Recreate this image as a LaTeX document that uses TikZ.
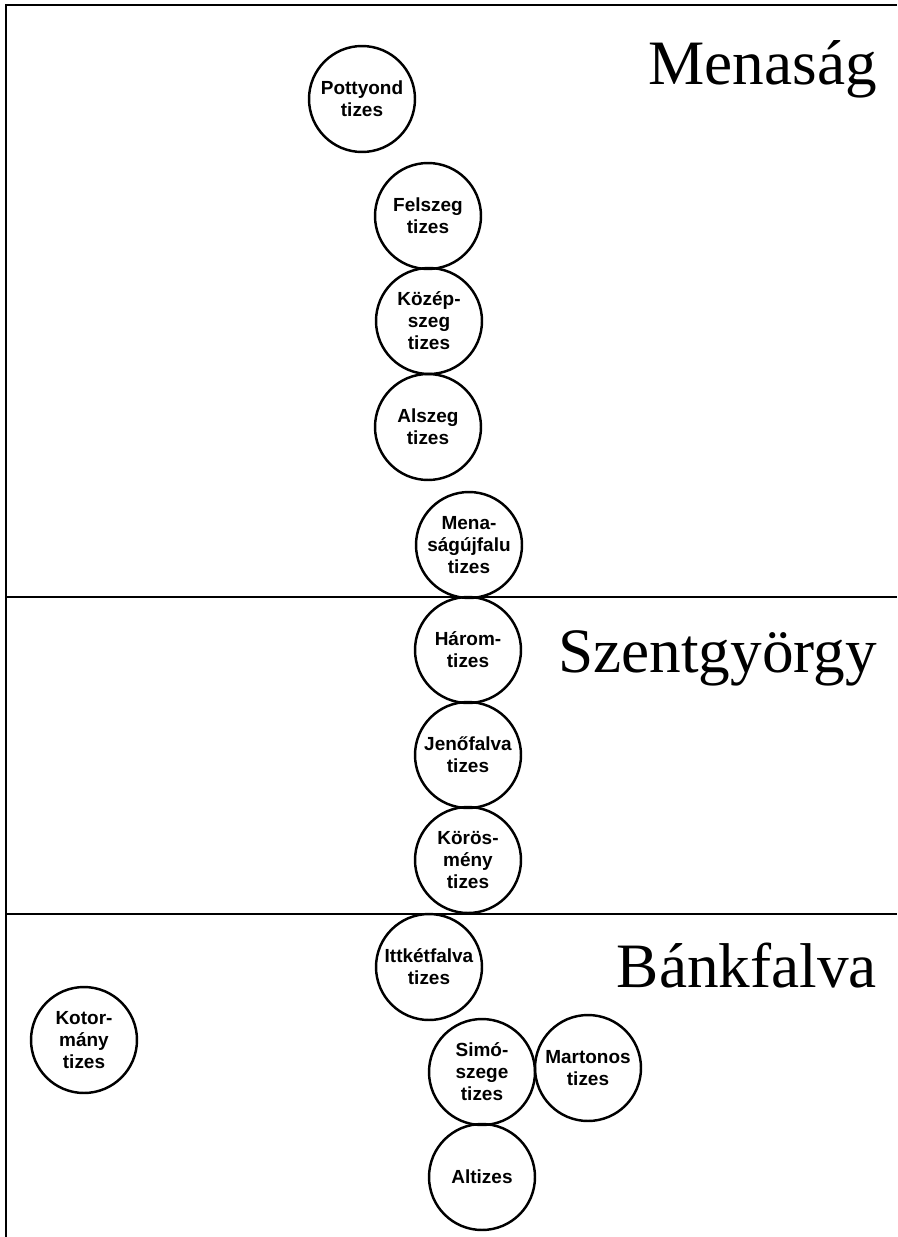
\documentclass[tikz,border=0pt]{standalone}
\usepackage{fontspec}
\setmainfont{Liberation Serif}
\setsansfont{Liberation Sans}
\usepackage{tikz}
\usetikzlibrary{positioning}

\tikzset{
  tized/.style={draw, circle, line width=1.4pt, minimum size=2.12cm, inner sep=0pt,
    align=center, font=\sffamily\bfseries\fontsize{10.8}{12.5}\selectfont},
  falu/.style={anchor=base east, font=\fontsize{36}{40}\selectfont},
  hatar/.style={line width=1pt}
}

\begin{document}
\begin{tikzpicture}[x=0.02cm, y=-0.02cm]
  \useasboundingbox (0,0) rectangle (897,1237);

  % frame and borders
  \draw[hatar] (897,5) -- (6,5) -- (6,1237);
  \foreach \y in {597,914} {
    \draw[hatar] (6,\y) -- (897,\y);
  }

  % village names
  \node[falu] (menasag) at (883,85) {Menaság};
  \node[falu] (szentgyorgy) at (883,672) {Szentgyörgy};
  \node[falu] (bankfalva) at (883,987) {Bánkfalva};

  % tizes of Menaság
  \node[tized] (pottyond) at (362,99) {Pottyond\\tizes};
  \node[tized] (felszeg) at (428,216) {Felszeg\\tizes};
  \node[tized] (kozepszeg) at (429,321) {Közép-\\szeg\\tizes};
  \node[tized] (alszeg) at (428,427) {Alszeg\\tizes};
  \node[tized] (ujfalu) at (469,545) {Mena-\\ságújfalu\\tizes};

  % tizes of Szentgyörgy
  \node[tized] (harom) at (468,650) {Három-\\tizes};
  \node[tized] (jenofalva) at (468,755) {Jenőfalva\\tizes};
  \node[tized] (korosmeny) at (468,860) {Körös-\\mény\\tizes};

  % tizes of Bánkfalva
  \node[tized] (ittketfalva) at (429,967) {Ittkétfalva\\tizes};
  \node[tized] (kotormany) at (84,1040) {Kotor-\\mány\\tizes};
  \node[tized] (simoszege) at (482,1072) {Simó-\\szege\\tizes};
  \node[tized] (martonos) at (588,1068) {Martonos\\tizes};
  \node[tized] (altizes) at (482,1177) {Altizes};
\end{tikzpicture}
\end{document}
